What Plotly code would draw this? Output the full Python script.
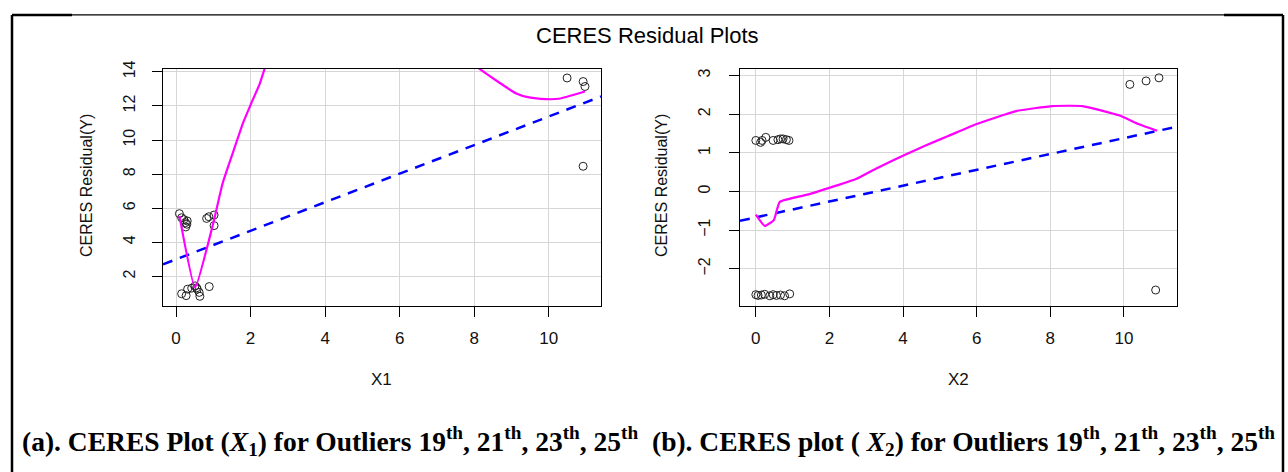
import plotly.graph_objects as go

# ---- panel (a): CERES residuals against X1 ----
x1_pts = [0.09, 0.15, 0.21, 0.26, 0.29, 0.30, 0.25, 0.82, 0.88, 1.02, 1.02,
          0.15, 0.27, 0.31, 0.42, 0.51, 0.55, 0.57, 0.62, 0.64, 0.89,
          10.49, 10.92, 10.97, 10.92]
res1_pts = [5.68, 5.44, 5.33, 4.90, 5.06, 5.25, 5.15, 5.40, 5.50, 5.60, 4.98,
            0.98, 0.87, 1.25, 1.31, 1.44, 1.33, 1.25, 1.06, 0.83, 1.40,
            13.64, 13.43, 13.14, 8.46]
# smoother through the residuals
x1_smooth = [0.09, 0.51, 0.98, 1.25, 1.53, 1.80, 2.02, 2.25, 2.38, 3.0, 4.0, 5.0,
             6.0, 7.0, 7.6, 8.13, 8.57, 9.11, 9.47, 9.91, 10.27, 10.63, 10.97]
res1_smooth = [5.55, 1.33, 4.96, 7.46, 9.29, 11.02, 12.17, 13.33, 14.19, 16.8, 19.6, 20.6,
               19.4, 17.0, 15.3, 14.2, 13.52, 12.75, 12.5, 12.4, 12.42, 12.63, 12.85]
# least-squares line (intercept, slope)
fit1 = [3.0, 0.838]

# ---- panel (b): CERES residuals against X2 ----
x2_pts = [0.0, 0.13, 0.17, 0.27, 0.47, 0.60, 0.67, 0.74, 0.83, 0.90,
          0.0, 0.06, 0.15, 0.24, 0.38, 0.47, 0.56, 0.67, 0.78, 0.92,
          10.16, 10.60, 10.95, 10.86]
res2_pts = [1.32, 1.27, 1.32, 1.40, 1.32, 1.34, 1.36, 1.36, 1.34, 1.32,
            -2.67, -2.69, -2.68, -2.66, -2.70, -2.67, -2.69, -2.68, -2.70, -2.65,
            2.77, 2.86, 2.94, -2.55]
x2_smooth = [0.0, 0.24, 0.49, 0.65, 1.46, 2.18, 2.72, 3.26, 3.98, 4.61, 5.24,
             5.98, 7.07, 8.06, 8.87, 9.86, 10.41, 10.9]
res2_smooth = [-0.6, -0.89, -0.74, -0.27, -0.07, 0.15, 0.32, 0.59, 0.92, 1.19, 1.44,
               1.74, 2.08, 2.21, 2.21, 1.97, 1.74, 1.57]
fit2 = [-0.67, 0.205]

x1_range = [-0.35, 11.40]
y1_range = [0.27, 14.17]
x2_range = [-0.43, 11.44]
y2_range = [-2.96, 3.17]

x_ticks = [0, 2, 4, 6, 8, 10]
y1_ticks = [2, 4, 6, 8, 10, 12, 14]
y2_ticks = [-2, -1, 0, 1, 2, 3]

W, H = 1288, 472
SANS = "Liberation Sans, Arial, sans-serif"
SERIF = "Liberation Serif, Times New Roman, serif"
MAGENTA = "#ff00ff"
BLUE = "#0000ff"


def px(v):
    return v / W


def py(v):
    return 1 - v / H


fig = go.Figure()

panels = [
    (x1_pts, res1_pts, x1_smooth, res1_smooth, fit1, x1_range, "x", "y"),
    (x2_pts, res2_pts, x2_smooth, res2_smooth, fit2, x2_range, "x2", "y2"),
]
for xs, ys, xsm, ysm, fit, xr, xa, ya in panels:
    fig.add_trace(go.Scatter(
        x=xs, y=ys, mode="markers", xaxis=xa, yaxis=ya,
        marker=dict(symbol="circle-open", size=8, color="#222222",
                    line=dict(width=1, color="#222222")),
        showlegend=False, hoverinfo="skip"))
    fig.add_trace(go.Scatter(
        x=[xr[0], xr[1]], y=[fit[0] + fit[1] * xr[0], fit[0] + fit[1] * xr[1]],
        mode="lines", xaxis=xa, yaxis=ya,
        line=dict(color=BLUE, width=2.5, dash="10px,8px"),
        showlegend=False, hoverinfo="skip"))
    fig.add_trace(go.Scatter(
        x=xsm, y=ysm, mode="lines", xaxis=xa, yaxis=ya,
        line=dict(color=MAGENTA, width=2.2, shape="spline", smoothing=0.4),
        showlegend=False, hoverinfo="skip"))

axis_common = dict(
    showline=True, linecolor="black", linewidth=1, mirror=True,
    ticks="outside", ticklen=10, tickcolor="black", tickwidth=1,
    showgrid=True, gridcolor="#d6d6d6", gridwidth=1, zeroline=False,
    fixedrange=True,
)
x_font = dict(family=SANS, size=17, color="#111111")
y_font = dict(family=SANS, size=16, color="#111111")

fig.update_layout(
    width=W, height=H,
    margin=dict(l=0, r=0, t=0, b=0),
    paper_bgcolor="white", plot_bgcolor="white",
    xaxis=dict(domain=[px(163), px(601)], range=x1_range, tickvals=x_ticks,
               anchor="y", ticklabelstandoff=7, tickfont=x_font, **axis_common),
    yaxis=dict(domain=[py(303), py(62)], range=y1_range, tickvals=y1_ticks,
               anchor="x", tickangle=-90, ticklabelstandoff=11, tickfont=y_font,
               **axis_common),
    xaxis2=dict(domain=[px(740), px(1177)], range=x2_range, tickvals=x_ticks,
                anchor="y2", ticklabelstandoff=7, tickfont=x_font, **axis_common),
    yaxis2=dict(domain=[py(303), py(62)], range=y2_range, tickvals=y2_ticks,
                anchor="x2", tickangle=-90, ticklabelstandoff=13, tickfont=y_font,
                **axis_common),
)

annotations = [
    dict(text="CERES Residual Plots", x=px(647), y=py(28),
         font=dict(family=SANS, size=22, color="black")),
    dict(text="X1", x=px(382), y=py(378), font=dict(family=SANS, size=17, color="#111111")),
    dict(text="X2", x=px(958), y=py(378), font=dict(family=SANS, size=17, color="#111111")),
    dict(text="CERES Residual(Y)", x=px(87), y=py(181), textangle=-90,
         font=dict(family=SANS, size=16, color="#111111")),
    dict(text="CERES Residual(Y)", x=px(662), y=py(181), textangle=-90,
         font=dict(family=SANS, size=16, color="#111111")),
    dict(text="<b>(a). CERES Plot (<i>X</i><sub>1</sub>) for Outliers "
              "19<sup>th</sup>, 21<sup>th</sup>, 23<sup>th</sup>, 25<sup>th</sup></b>",
         x=px(330), y=py(440), font=dict(family=SERIF, size=27.5, color="black")),
    dict(text="<b>(b). CERES plot ( <i>X</i><sub>2</sub>) for Outliers "
              "19<sup>th</sup>, 21<sup>th</sup>, 23<sup>th</sup>, 25<sup>th</sup></b>",
         x=px(963), y=py(440), font=dict(family=SERIF, size=27.5, color="black")),
]
for a in annotations:
    a.update(xref="paper", yref="paper", showarrow=False,
             xanchor="center", yanchor="middle")
fig.update_layout(annotations=annotations)

# outer frame around the figure
frame = [
    (12, 7, 12, H, 2.5),
    (1283, 7, 1283, H, 2.5),
    (12, 7, 1283, 7, 1.2),
    (12, 7, 72, 7, 2.5),
    (1224, 7, 1283, 7, 2.5),
]
fig.update_layout(shapes=[
    dict(type="line", xref="paper", yref="paper",
         x0=px(a), y0=py(b), x1=px(c), y1=py(d),
         line=dict(color="black", width=w))
    for a, b, c, d, w in frame
])

fig.write_html("out.html", config={"displayModeBar": False})
